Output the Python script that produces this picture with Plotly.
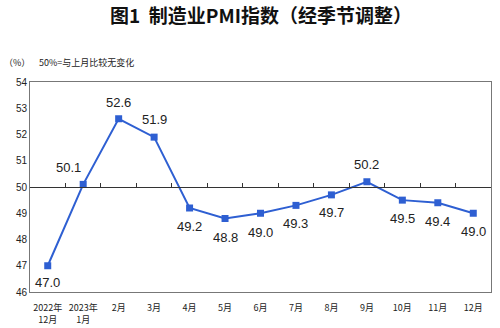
import plotly.graph_objects as go

months = ["2022年<br>12月", "2023年<br>1月", "2月", "3月", "4月", "5月", "6月",
          "7月", "8月", "9月", "10月", "11月", "12月"]
pmi = [47.0, 50.1, 52.6, 51.9, 49.2, 48.8, 49.0, 49.3, 49.7, 50.2, 49.5, 49.4, 49.0]
label_dy = [-17, 17, 16, 18, -18, -19, -19, -18, -18, 17, -18, -19, -18]
label_dx = [0, -15, 0, 0, 0, 0, 0, 0, 0, 0, 0, 0, 0]
y_ticks = [46, 47, 48, 49, 50, 51, 52, 53, 54]

blue = "#2E5FD2"
idx = list(range(len(months)))

fig = go.Figure()
fig.add_trace(go.Scatter(
    x=idx, y=pmi, mode="lines+markers",
    line=dict(color=blue, width=2),
    marker=dict(symbol="square", size=7, color=blue),
    showlegend=False, hoverinfo="skip",
))
# invisible trace for the axis at 50
fig.add_trace(go.Scatter(x=[0], y=[50], xaxis="x2", mode="markers",
                         marker=dict(opacity=0), showlegend=False, hoverinfo="skip"))

for i, v in enumerate(pmi):
    fig.add_annotation(x=i, y=v, text=f"{v:.1f}", showarrow=False,
                       yshift=label_dy[i], xshift=label_dx[i],
                       font=dict(family="Liberation Sans, Arial", size=13, color="#222"))

fig.add_annotation(xref="paper", yref="paper", x=0.5, y=1, yshift=68,
                   text="<b>图1  制造业PMI指数（经季节调整）</b>", showarrow=False,
                   xanchor="center", yanchor="middle",
                   font=dict(family="Noto Sans CJK SC", size=19, color="#111"))
fig.add_annotation(xref="paper", yref="paper", x=0, y=1, xshift=-28, yshift=20,
                   text="（%）", showarrow=False, xanchor="left", yanchor="middle",
                   font=dict(family="Noto Sans CJK SC", size=9, color="#222"))
fig.add_annotation(xref="paper", yref="paper", x=0, y=1, xshift=7, yshift=20,
                   text="50%=与上月比较无变化", showarrow=False, xanchor="left", yanchor="middle",
                   font=dict(family="Noto Sans CJK SC", size=9, color="#222"))

fig.update_layout(
    width=500, height=328,
    margin=dict(l=30, r=9, t=82, b=36, autoexpand=False),
    paper_bgcolor="white", plot_bgcolor="white",
    xaxis=dict(range=[-0.5, 12.5], tickvals=idx, ticktext=months, automargin=False,
               showgrid=False, zeroline=False, ticks="", ticklabelstandoff=7,
               showline=True, linecolor="#777", linewidth=1, mirror=True,
               tickfont=dict(family="Noto Sans CJK SC", size=9, color="#222")),
    xaxis2=dict(overlaying="x", anchor="free", position=0.5, side="bottom",
                range=[-0.5, 12.5], tickvals=[i + 0.5 for i in idx[:-1]],
                showticklabels=False, ticks="inside", ticklen=4, tickcolor="#333",
                showline=True, linecolor="#333", linewidth=1, showgrid=False, zeroline=False),
    yaxis=dict(range=[46, 54], tickvals=y_ticks, showgrid=False, zeroline=False,
               ticks="", showline=True, linecolor="#777", linewidth=1, mirror=True,
               automargin=False,
               tickfont=dict(family="Liberation Sans, Arial", size=10, color="#222")),
)

fig.write_html("out.html")
